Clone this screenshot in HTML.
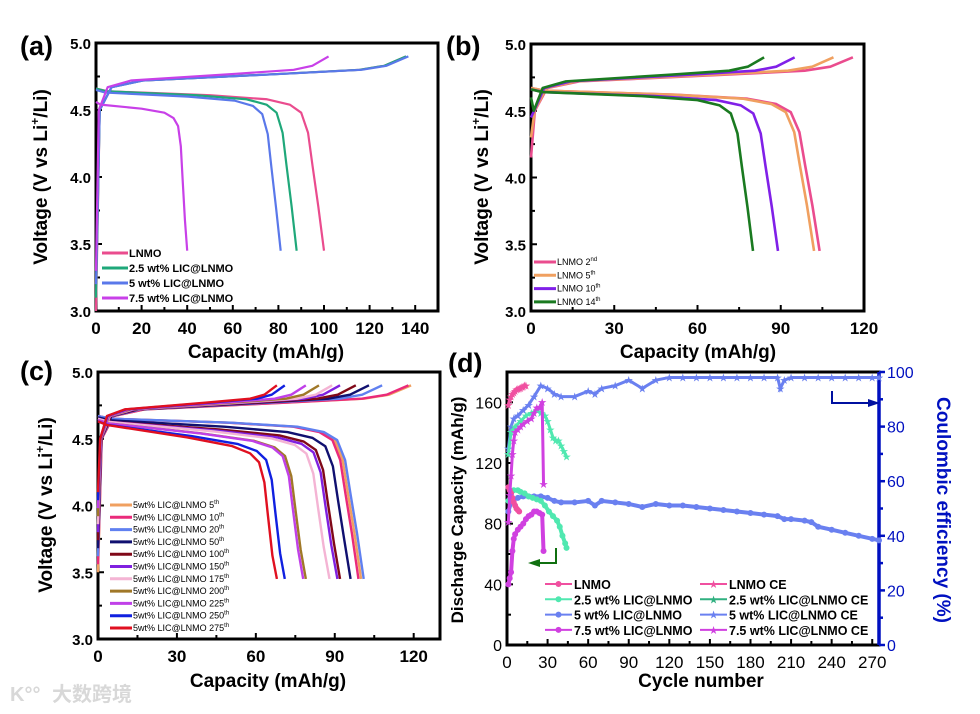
<!DOCTYPE html>
<html><head><meta charset="utf-8"><style>
html,body{margin:0;padding:0;background:#fff;}
svg{display:block;font-family:"Liberation Sans",Arial,sans-serif;}
</style></head><body>
<svg id="fig" width="980" height="714" viewBox="0 0 980 714" xmlns="http://www.w3.org/2000/svg"></svg>
<script>
// ---------- DATA ----------
// Panel (a)
const aNames = ["LNMO","2.5 wt% LIC@LNMO","5 wt% LIC@LNMO","7.5 wt% LIC@LNMO"];
const aDischarge = [100, 88, 81, 40];
const aCharge = [136, 136, 137, 102];
const aPlateau = [4.66, 4.66, 4.65, 4.56];
// Panel (b)
const bNames = ["2nd","5th","10th","14th"];
const bDischarge = [104, 102, 89, 80];
const bCharge = [116, 109, 95, 84];
// Panel (c)
const cNames = ["5th","10th","20th","50th","100th","150th","175th","200th","225th","250th","275th"];
const cDischarge = [100, 99, 101, 96, 92, 91, 88, 79, 78, 71, 68];
const cCharge = [119, 118, 108, 103, 98, 92, 89, 84, 79, 71, 68];
// Panel (d)
const dLNMOcyc = [1,2,3,4,5,6,7,8,9];
const dLNMOcap = [104,102,100,97,94,92,90,89,88];
const dLNMOceCyc = [1,2,3,4,5,6,7,8,9,10,11,12,13,14];
const dLNMOce = [88,90,91,92,92.5,93,93.5,93.8,94,94.2,94.5,94.7,95,95];
const d25cyc = [1,3,5,8,10,13,16,19,22,25,28,31,34,37,39,41,43,44];
const d25cap = [95,100,102,102,101,100,98,97,96,95,92,88,85,82,78,72,67,64];
const d25ceCyc = [1,3,6,10,14,18,22,25,28,30,32,34,36,38,40,42,44];
const d25ce = [70,78,80,82,84,85,86,85,84,82,79,76,75,75,73,71,69];
const d5cyc = [1,3,5,8,12,16,20,25,30,35,40,50,60,65,70,80,90,100,110,120,130,140,150,160,170,180,190,200,205,210,220,225,230,240,250,260,270,275];
const d5cap = [88,94,96,97,98,98,98,98,97,95,94,94,95,92,95,94,93,91,93,92,92,91,90,89,88,87,86,85,83,83,82,81,78,76,74,72,70,69];
const d5ceCyc = [1,3,5,8,12,16,20,25,30,35,40,50,60,65,70,80,90,100,110,120,130,140,150,160,170,180,190,200,202,205,210,220,230,240,250,260,270,275];
const d5ce = [72,80,83,84,86,88,91,95,94,92,91,91,93,92,94,95,97,94,97,98,98,98,98,98,98,98,98,98,94,97,98,98,98,98,98,98,98,98];
const d75cyc = [1,2,3,4,5,6,8,10,12,14,16,18,20,22,24,26,27];
const d75cap = [40,44,48,62,70,73,76,78,80,83,85,86,88,88,87,86,62];
const d75ceCyc = [1,2,3,4,5,6,8,10,12,15,18,20,22,24,26,27];
const d75ce = [45,55,62,70,75,78,79,80,81,82,83,85,87,87,89,59];

// ---------- helpers ----------
const NS="http://www.w3.org/2000/svg";
const svg=document.getElementById('fig');
function mk(tag,attrs,parent){const e=document.createElementNS(NS,tag);for(const k in attrs)e.setAttribute(k,attrs[k]);(parent||svg).appendChild(e);return e;}
function txt(s,attrs,parent){const e=mk('text',attrs,parent);e.textContent=s;return e;}
function lin(d0,d1,r0,r1){return v=>r0+(v-d0)*(r1-r0)/(d1-d0);}

const disShape=[[0,0],[0.05,-0.02],[0.5,-0.05],[0.75,-0.08],[0.85,-0.12],[0.9,-0.18],[0.93,-0.33],[0.95,-0.58],[0.975,-0.88],[1,-1.2]];
const chgShape=[[0.012,4.5],[0.05,4.67],[0.15,4.72],[0.6,4.77],[0.85,4.80],[0.93,4.83],[1,4.9]];

function axesVolt(g,box,xmax,xstep,xminor,labelPrefix){
  const X=lin(0,xmax,box.x0,box.x1), Y=lin(3,5,box.y1,box.y0);
  mk('rect',{x:box.x0,y:box.y0,width:box.x1-box.x0,height:box.y1-box.y0,fill:'none',stroke:'#000','stroke-width':3},g);
  for(let v=0;v<=xmax+1e-9;v+=xminor){
    const major=Math.abs(v/xstep-Math.round(v/xstep))<1e-6;
    mk('line',{x1:X(v),x2:X(v),y1:box.y1,y2:box.y1-(major?6:4),stroke:'#000','stroke-width':2},g);
    if(major){const t=txt(String(Math.round(v)),{x:X(v),y:box.y1+23,'text-anchor':'middle','font-size':17,'font-weight':'bold'},g);
      }
  }
  for(let v=3;v<=5.001;v+=0.25){
    const major=Math.abs(v*2-Math.round(v*2))<1e-6;
    mk('line',{x1:box.x0,x2:box.x0+(major?6:4),y1:Y(v),y2:Y(v),stroke:'#000','stroke-width':2},g);
    if(major){const t=txt(v.toFixed(1),{x:box.x0-5,y:Y(v)+6,'text-anchor':'end','font-size':15,'font-weight':'bold'},g);
      }
  }
  return {X,Y};
}
function drawProfile(g,S,disCap,chgCap,plateau,vstart,color,w,name,slope){
  slope=slope||0;
  let d='M'+S.X(0)+','+S.Y(vstart);
  chgShape.forEach(p=>{d+=' L'+S.X(p[0]*chgCap)+','+S.Y(p[1]);});
  const c=mk('path',{d:d,fill:'none',stroke:color,'stroke-width':w,'stroke-linejoin':'round'},g);
  
  let d2='';
  disShape.forEach((p,i)=>{const v=p[0]===1?3.45:plateau+p[1]+slope*Math.min(p[0],0.9);d2+=(i?' L':'M')+S.X(p[0]*disCap)+','+S.Y(v);});
  const e=mk('path',{d:d2,fill:'none',stroke:color,'stroke-width':w,'stroke-linejoin':'round'},g);
  
}
function voltTitle(g,x,y){
  const t=mk('text',{transform:`translate(${x},${y}) rotate(-90)`,'text-anchor':'middle','font-size':19,'font-weight':'bold'},g);
  
  t.appendChild(document.createTextNode('Voltage (V vs Li'));
  const s=mk('tspan',{'font-size':12,dy:-8},t);s.textContent='+';
  const r=mk('tspan',{dy:8},t);r.textContent='/Li)';
}
function panelLabel(s,x,y){const t=txt(s,{x:x,y:y,'font-size':27,'font-weight':'bold'});}
function xTitle(g,s,x,y){const t=txt(s,{x:x,y:y,'text-anchor':'middle','font-size':19,'font-weight':'bold'},g);}

// ---------- panel (a) ----------
{
  const g=mk('g',{});
  const box={x0:96,x1:438,y0:43,y1:311};
  const S=axesVolt(g,box,150,20,10,'a');
  const cols=['#ea4c8e','#1fa87a','#5a78ea','#c840e8'];
  aNames.forEach((n,i)=>drawProfile(g,S,aDischarge[i],aCharge[i],aPlateau[i],3.0+i*0.1,cols[i],2.2,'a-'+n.replace(/[^a-z0-9]+/gi,'-').toLowerCase()));
  aNames.forEach((n,i)=>{const y=253+i*15;
    const l=mk('line',{x1:102,x2:128,y1:y,y2:y,stroke:cols[i],'stroke-width':3},g);
    const t=txt(n,{x:129,y:y+4,'font-size':11,'font-weight':'bold'},g);});
  voltTitle(g,47,177);xTitle(g,'Capacity (mAh/g)',266,358);
}
panelLabel('(a)',20,55);
// ---------- panel (b) ----------
{
  const g=mk('g',{});
  const box={x0:531,x1:864,y0:44,y1:311};
  const S=axesVolt(g,box,120,30,15,'b');
  const cols=['#ea4c8e','#f0a060','#8020e8','#1a7a20'];
  const plat=[4.67,4.67,4.66,4.66];
  bNames.forEach((n,i)=>drawProfile(g,S,bDischarge[i],bCharge[i],plat[i],4.15+i*0.15,cols[i],2.6,'b-lnmo-'+n));
  bNames.forEach((n,i)=>{const y=262+i*13.3;
    const l=mk('line',{x1:534,x2:556,y1:y,y2:y,stroke:cols[i],'stroke-width':3},g);
    const t=mk('text',{x:557,y:y+3,'font-size':9},g);
    t.appendChild(document.createTextNode('LNMO '+n.replace(/\D/g,'')));const s=mk('tspan',{'font-size':6,dy:-4},t);s.textContent=n.replace(/\d/g,'');});
  voltTitle(g,488,177);xTitle(g,'Capacity (mAh/g)',698,358);
}
panelLabel('(b)',446,55);
// ---------- panel (c) ----------
{
  const g=mk('g',{});
  const box={x0:98,x1:440,y0:372,y1:639};
  const S=axesVolt(g,box,130,30,15,'c');
  const cols=['#f0a060','#ea2a7a','#6080f0','#101070','#800818','#8020e0','#f4b4d4','#a07828','#c040e8','#1020e0','#e01020'];
  const plat=[4.67,4.67,4.67,4.66,4.65,4.65,4.65,4.64,4.64,4.63,4.63];
  const slope=[0,0,0,-0.04,-0.06,-0.08,-0.09,-0.1,-0.1,-0.12,-0.14];
  cNames.forEach((n,i)=>drawProfile(g,S,cDischarge[i],cCharge[i],plat[i],3.5+i*0.06,cols[i],2.4,'c-cycle-'+n,slope[i]));
  cNames.forEach((n,i)=>{const y=505+i*12.3;
    const l=mk('line',{x1:110,x2:132,y1:y,y2:y,stroke:cols[i],'stroke-width':3},g);
    const t=mk('text',{x:133,y:y+3,'font-size':9},g);
    t.appendChild(document.createTextNode('5wt% LIC@LNMO '+n.replace(/\D/g,'')));const s=mk('tspan',{'font-size':6,dy:-4},t);s.textContent=n.replace(/\d/g,'');});
  voltTitle(g,52,505);xTitle(g,'Capacity (mAh/g)',268,687);
}
panelLabel('(c)',20,380);
// ---------- panel (d) ----------
{
  const g=mk('g',{});
  const box={x0:507,x1:879,y0:372,y1:645};
  const X=lin(0,275,box.x0,box.x1), YL=lin(0,180,box.y1,box.y0), YR=lin(0,100,box.y1,box.y0);
  mk('rect',{x:box.x0,y:box.y0,width:box.x1-box.x0,height:box.y1-box.y0,fill:'none',stroke:'#000','stroke-width':3},g);
  mk('line',{x1:box.x1,x2:box.x1,y1:box.y0,y2:box.y1,stroke:'#0010c0','stroke-width':3.5},g);
  for(let v=0;v<=270;v+=15){const major=v%30===0;
    mk('line',{x1:X(v),x2:X(v),y1:box.y1,y2:box.y1-(major?6:4),stroke:'#000','stroke-width':2},g);
    if(major){const t=txt(String(v),{x:X(v),y:box.y1+23,'text-anchor':'middle','font-size':17},g);}}
  for(let v=0;v<=180;v+=20){const major=v%40===0;
    mk('line',{x1:box.x0,x2:box.x0+(major?6:4),y1:YL(v),y2:YL(v),stroke:'#000','stroke-width':2},g);
    if(major){const t=txt(String(v),{x:box.x0-5,y:YL(v)+6,'text-anchor':'end','font-size':16},g);}}
  for(let v=0;v<=100;v+=10){const major=v%20===0;
    mk('line',{x1:box.x1,x2:box.x1+(major?6:4),y1:YR(v),y2:YR(v),stroke:'#0010c0','stroke-width':2.5},g);
    if(major){const t=txt(String(v),{x:box.x1+8,y:YR(v)+6,'font-size':16,fill:'#0010c0'},g);}}
  function series(cyc,vals,Y,color,marker,name){
    let d='';cyc.forEach((c,i)=>{d+=(i?' L':'M')+X(c)+','+Y(vals[i]);});
    const p=mk('path',{d:d,fill:'none',stroke:color,'stroke-width':marker==='o'?4:3},g);
    cyc.forEach((c,i)=>{
      if(marker==='o'){const m=mk('circle',{cx:X(c),cy:Y(vals[i]),r:3,fill:color},g);}
      else{const m=txt('★',{x:X(c),y:Y(vals[i])+4,'text-anchor':'middle','font-size':11,fill:color,'font-family':'DejaVu Sans'},g);}
    });
  }
  series(d5cyc,d5cap,YL,'#6a80f0','o','d-5wt-capacity');
  series(d5ceCyc,d5ce,YR,'#6a80f0','s','d-5wt-ce');
  series(d25cyc,d25cap,YL,'#50e8b0','o','d-2.5wt-capacity');
  series(d25ceCyc,d25ce,YR,'#50e8b0','s','d-2.5wt-ce');
  series(dLNMOcyc,dLNMOcap,YL,'#f050a0','o','d-lnmo-capacity');
  series(dLNMOceCyc,dLNMOce,YR,'#f050a0','s','d-lnmo-ce');
  series(d75cyc,d75cap,YL,'#d040e0','o','d-7.5wt-capacity');
  series(d75ceCyc,d75ce,YR,'#d040e0','s','d-7.5wt-ce');
  mk('path',{d:'M832,391 V403 H870',fill:'none',stroke:'#0010a0','stroke-width':2},g);
  mk('path',{d:'M880,403 L868,399 L868,407 Z',fill:'#0010a0'},g);
  mk('path',{d:'M556,548 V563 H538',fill:'none',stroke:'#107010','stroke-width':2},g);
  mk('path',{d:'M528,563 L540,559 L540,567 Z',fill:'#107010'},g);
  const lg=[['LNMO','#f050a0','o'],['2.5 wt% LIC@LNMO','#50e8b0','o'],['5 wt% LIC@LNMO','#6a80f0','o'],['7.5 wt% LIC@LNMO','#d040e0','o'],
            ['LNMO CE','#f050a0','s'],['2.5 wt% LIC@LNMO CE','#30b080','s'],['5 wt% LIC@LNMO CE','#6a80f0','s'],['7.5 wt% LIC@LNMO CE','#d040e0','s']];
  lg.forEach((e,i)=>{const col=i<4?0:1;const x=col?700:545;const y=584+(i%4)*15.3;
    const l=mk('line',{x1:x,x2:x+27,y1:y,y2:y,stroke:e[1],'stroke-width':2},g);
    if(e[2]==='o')mk('circle',{cx:x+13.5,cy:y,r:3,fill:e[1]},g);else txt('★',{x:x+13.5,y:y+4,'text-anchor':'middle','font-size':11,fill:e[1],'font-family':'DejaVu Sans'},g);
    const t=txt(e[0],{x:x+29,y:y+5,'font-size':12.5,'font-weight':'bold'},g);});
  const ty=txt('Discharge Capacity (mAh/g)',{transform:'translate(463,510) rotate(-90)','text-anchor':'middle','font-size':17,'font-weight':'bold'},g);
  
  const tr=txt('Coulombic efficiency (%)',{transform:'translate(937,510) rotate(90)','text-anchor':'middle','font-size':19,'font-weight':'bold',fill:'#0010c0'},g);
  
  xTitle(g,'Cycle number',701,687);
}
panelLabel('(d)',448,372);
const wm=txt('大数跨境',{x:52,y:701,'font-size':20,fill:'#d8d8d8','font-family':'"Liberation Sans","Noto Sans CJK SC",sans-serif','font-weight':'bold'});

const wm2=txt('K°°',{x:10,y:701,'font-size':20,fill:'#d8d8d8','font-weight':'bold'});

</script>
</body></html>
